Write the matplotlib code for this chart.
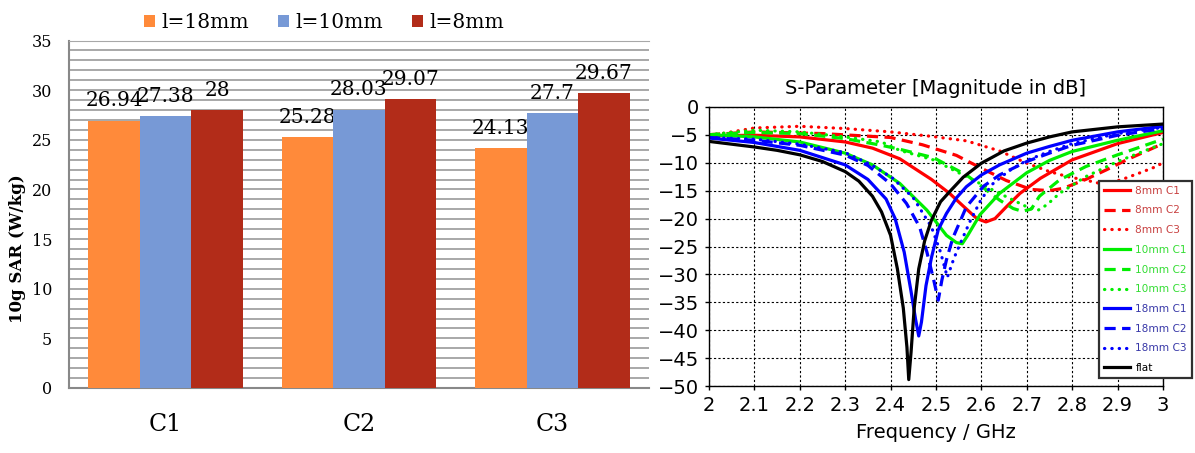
import numpy as np
import matplotlib.pyplot as plt
from matplotlib.ticker import MultipleLocator

# left chart: 10g SAR per case
cases = ["C1", "C2", "C3"]
sar_18mm = [26.94, 25.28, 24.13]
sar_10mm = [27.38, 28.03, 27.7]
sar_8mm = [28, 29.07, 29.67]
bar_names = ["l=18mm", "l=10mm", "l=8mm"]
bar_colors = ["#FF8A3A", "#7799D6", "#B22C19"]

# right chart: S11 (GHz, dB)
f_8mm_c1 = [2.0, 2.1, 2.2, 2.3, 2.36, 2.42, 2.49, 2.53, 2.555, 2.59, 2.61, 2.63, 2.655, 2.685, 2.73, 2.8, 2.9, 3.0]
s_8mm_c1 = [-5.2, -5.1, -5.4, -6.3, -7.4, -9.3, -13.0, -15.5, -17.4, -20.0, -20.6, -20.0, -17.9, -15.5, -12.8, -9.5, -6.6, -4.6]
f_8mm_c2 = [2.0, 2.1, 2.25, 2.4, 2.47, 2.545, 2.6, 2.655, 2.71, 2.75, 2.78, 2.83, 2.875, 2.92, 3.0]
s_8mm_c2 = [-5.0, -4.5, -4.8, -5.5, -6.8, -8.7, -11.0, -13.2, -14.8, -15.0, -14.6, -13.0, -11.3, -9.5, -6.6]
f_8mm_c3 = [2.0, 2.1, 2.2, 2.3, 2.4, 2.49, 2.567, 2.64, 2.7, 2.75, 2.79, 2.845, 2.87, 2.91, 2.95, 2.985, 3.0]
s_8mm_c3 = [-5.2, -3.8, -3.5, -3.9, -4.5, -5.3, -6.1, -7.9, -10.1, -11.6, -12.5, -13.4, -13.9, -13.0, -11.8, -10.7, -10.0]

f_10mm_c1 = [2.0, 2.1, 2.2, 2.3, 2.36, 2.42, 2.48, 2.523, 2.545, 2.558, 2.57, 2.597, 2.64, 2.7, 2.75, 2.8, 2.9, 3.0]
s_10mm_c1 = [-5.0, -5.4, -6.3, -8.3, -10.4, -13.7, -18.5, -23.0, -24.3, -24.5, -23.0, -19.3, -15.5, -11.8, -9.6, -8.0, -6.0, -4.3]
f_10mm_c2 = [2.0, 2.1, 2.2, 2.3, 2.38, 2.42, 2.494, 2.567, 2.611, 2.64, 2.67, 2.69, 2.71, 2.728, 2.772, 2.83, 2.9, 3.0]
s_10mm_c2 = [-5.0, -4.6, -4.8, -5.7, -6.9, -7.6, -9.1, -12.2, -14.9, -16.7, -18.2, -18.7, -18.3, -16.0, -13.1, -10.7, -8.6, -5.8]
f_10mm_c3 = [2.0, 2.1, 2.2, 2.3, 2.38, 2.42, 2.494, 2.567, 2.64, 2.7, 2.725, 2.745, 2.772, 2.83, 2.9, 3.0]
s_10mm_c3 = [-5.0, -4.2, -4.5, -5.4, -6.3, -7.8, -9.5, -12.5, -15.5, -17.9, -18.5, -17.5, -15.5, -12.5, -9.8, -6.6]

f_18mm_c1 = [2.0, 2.1, 2.2, 2.3, 2.35, 2.39, 2.41, 2.43, 2.445, 2.455, 2.462, 2.468, 2.478, 2.49, 2.505, 2.523, 2.545, 2.567, 2.6, 2.64, 2.7, 2.75, 2.8, 2.9, 3.0]
s_18mm_c1 = [-5.6, -6.4, -7.8, -10.4, -13.0, -16.5, -20.0, -26.0, -33.0, -38.0, -41.0, -38.5, -32.0, -27.0, -22.0, -19.1, -16.3, -14.3, -12.2, -10.4, -8.3, -7.1, -6.0, -4.5, -3.5]
f_18mm_c2 = [2.0, 2.1, 2.2, 2.3, 2.35, 2.4, 2.435, 2.464, 2.48, 2.495, 2.505, 2.513, 2.523, 2.537, 2.567, 2.605, 2.64, 2.7, 2.75, 2.8, 2.9, 3.0]
s_18mm_c2 = [-5.5, -6.0, -6.9, -8.65, -10.5, -13.8, -17.3, -21.5, -26.0, -31.0, -34.6, -31.0, -27.4, -23.5, -17.9, -14.2, -12.2, -9.8, -8.3, -6.9, -5.1, -3.9]
f_18mm_c3 = [2.0, 2.1, 2.2, 2.3, 2.36, 2.405, 2.45, 2.49, 2.51, 2.525, 2.54, 2.556, 2.575, 2.6, 2.625, 2.66, 2.7, 2.75, 2.8, 2.9, 3.0]
s_18mm_c3 = [-5.5, -5.8, -6.7, -8.2, -10.5, -12.8, -16.3, -21.5, -26.0, -30.5, -27.0, -24.0, -20.5, -16.5, -13.8, -11.5, -9.6, -8.0, -6.6, -4.8, -3.7]

f_flat = [2.0, 2.05, 2.1, 2.15, 2.2, 2.25, 2.3, 2.33, 2.36, 2.38, 2.4, 2.415, 2.428, 2.436, 2.44, 2.445, 2.452, 2.462, 2.475, 2.49, 2.51, 2.53, 2.56, 2.6, 2.65, 2.7, 2.75, 2.8, 2.9, 3.0]
s_flat = [-6.2, -6.7, -7.2, -7.8, -8.6, -9.8, -11.6, -13.3, -16.0, -18.8, -23.0, -29.0, -36.0, -43.0, -48.8, -44.0, -36.0, -29.0, -24.0, -20.3, -17.0, -15.2, -12.6, -10.1, -7.9, -6.5, -5.4, -4.5, -3.6, -3.1]

fig = plt.figure(figsize=(11.95, 4.53), dpi=100)

# ---------- left: bar chart ----------
ax1 = fig.add_axes([0.0577, 0.1435, 0.4854, 0.767])
x = np.arange(len(cases))
w = 0.8 / 3
series = [sar_18mm, sar_10mm, sar_8mm]
handles = []
for i, vals in enumerate(series):
    b = ax1.bar(x + (i - 1) * w, vals, w, color=bar_colors[i], label=bar_names[i], zorder=3)
    handles.append(b)
    for xi, v in zip(x + (i - 1) * w, vals):
        ax1.annotate(f"{v:g}", (xi, v), xytext=(0, 7.5), textcoords="offset points",
                     ha="center", va="bottom", fontsize=14.5, family="DejaVu Serif")
ax1.set_xlim(-0.5, 2.5)
ax1.set_ylim(0, 35)
ax1.yaxis.set_major_locator(MultipleLocator(5))
ax1.yaxis.set_minor_locator(MultipleLocator(1))
ax1.grid(axis="y", which="both", color="#a8a8a8", lw=1.4, zorder=0)
ax1.set_axisbelow(True)
ax1.set_xticks(x)
ax1.set_xticklabels(cases, fontsize=17, family="DejaVu Serif")
for lab in ax1.get_yticklabels():
    lab.set_family("DejaVu Serif")
ax1.tick_params(axis="y", which="both", length=0, pad=12, labelsize=11.5)
ax1.tick_params(axis="x", length=0, pad=18)
ax1.set_ylabel("10g SAR (W/kg)", fontsize=12, family="DejaVu Serif", fontweight="bold")
ax1.yaxis.set_label_coords(-0.074, 0.40)
for s in ["left", "bottom"]:
    ax1.spines[s].set_color("#888888")
    ax1.spines[s].set_linewidth(1.5)
ax1.spines["top"].set_color("#a8a8a8")
ax1.spines["right"].set_visible(False)
fig.legend(handles=handles, loc="center", bbox_to_anchor=(324 / 1195, 0.951), ncol=3,
           frameon=False, prop={"family": "DejaVu Serif", "size": 14.5},
           handlelength=0.55, handleheight=0.55, handletextpad=0.35, columnspacing=1.4)

# ---------- right: S-parameter ----------
ax2 = fig.add_axes([0.5933, 0.1472, 0.3799, 0.6172])
dash = (0, (3.5, 2))
dot = (0, (0.1, 2.2))
curves = [
    (f_8mm_c1, s_8mm_c1, "8mm C1", "#ff0000", "-", "#c84040"),
    (f_8mm_c2, s_8mm_c2, "8mm C2", "#ff0000", dash, "#c84040"),
    (f_8mm_c3, s_8mm_c3, "8mm C3", "#ff0000", dot, "#c84040"),
    (f_10mm_c1, s_10mm_c1, "10mm C1", "#00ee00", "-", "#33dd33"),
    (f_10mm_c2, s_10mm_c2, "10mm C2", "#00ee00", dash, "#33dd33"),
    (f_10mm_c3, s_10mm_c3, "10mm C3", "#00ee00", dot, "#33dd33"),
    (f_18mm_c1, s_18mm_c1, "18mm C1", "#0000ff", "-", "#3838a8"),
    (f_18mm_c2, s_18mm_c2, "18mm C2", "#0000ff", dash, "#3838a8"),
    (f_18mm_c3, s_18mm_c3, "18mm C3", "#0000ff", dot, "#3838a8"),
    (f_flat, s_flat, "flat", "#000000", "-", "#000000"),
]
text_colors = []
for f, s, name, c, ls, tc in curves:
    ax2.plot(f, s, color=c, ls=ls, lw=2.3, label=name,
             dash_capstyle="round" if ls == dot else "butt")
    text_colors.append(tc)
ax2.set_xlim(2, 3)
ax2.set_ylim(-50, 0)
xt = np.round(np.arange(2.0, 3.01, 0.1), 1)
ax2.set_xticks(xt)
ax2.set_xticklabels([f"{v:g}" for v in xt])
ax2.set_yticks(np.arange(-50, 1, 5))
ax2.tick_params(labelsize=14, length=3, width=1, pad=4)
ax2.grid(color="black", ls=(0, (2, 2)), lw=0.8)
for s in ax2.spines.values():
    s.set_linewidth(1)
ax2.set_title("S-Parameter [Magnitude in dB]", fontsize=14, pad=9)
ax2.set_xlabel("Frequency / GHz", fontsize=14, labelpad=6)
leg = ax2.legend(loc="upper left", bbox_to_anchor=(1099 / 1195, 1 - 181 / 453),
                 bbox_transform=fig.transFigure, fontsize=7.6, handlelength=2.5,
                 labelspacing=0.92, borderaxespad=0, fancybox=False, framealpha=1,
                 edgecolor="#303030", handletextpad=0.5, borderpad=0.45)
leg.get_frame().set_linewidth(1.6)
for t, tc in zip(leg.get_texts(), text_colors):
    t.set_color(tc)

fig.savefig("out.png", dpi=100)
